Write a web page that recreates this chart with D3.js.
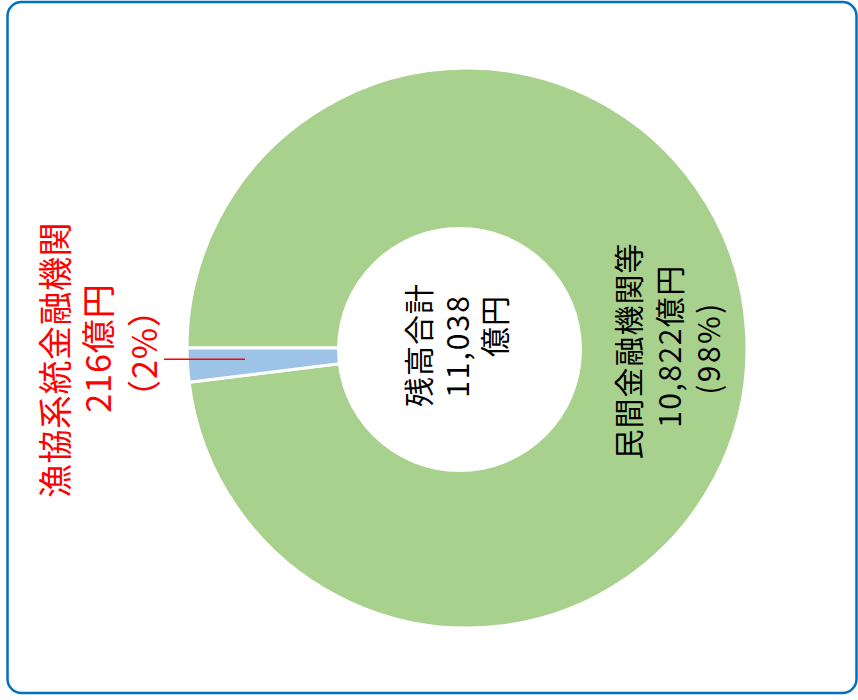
<!DOCTYPE html>
<html>
<head>
<meta charset="utf-8">
<script src="https://cdn.jsdelivr.net/npm/d3@7"></script>
<style>
  body { margin: 0; background: #fff; }
  svg text { font-family: "Noto Sans CJK JP", "Noto Sans", sans-serif; }
</style>
</head>
<body>
<svg width="858" height="700"></svg>
<script>
var categories = ["民間金融機関等", "漁協系統金融機関"];
var values = [10822, 216];
var valueLabels = ["10,822億円", "216億円"];
var pctLabels = ["(98%)", "（2%）"];
var totalLabel = ["残高合計", "11,038", "億円"];

var svg = d3.select("svg"),
    width = +svg.attr("width"),
    height = +svg.attr("height");

// outer frame
svg.append("rect")
    .attr("x", 7.5).attr("y", 2)
    .attr("width", 849).attr("height", 691)
    .attr("rx", 14)
    .attr("fill", "none")
    .attr("stroke", "#0070C0")
    .attr("stroke-width", 2.5);

var cx = 467, cy = 348,
    outerR = 280, innerR = 122.5;

// whole chart is turned a quarter to the left
var g = svg.append("g")
    .attr("transform", "translate(" + cx + "," + cy + ") rotate(-90)");

var color = d3.scaleOrdinal(categories, ["#A9D18E", "#9DC3E6"]);

var data = categories.map(function (c, i) { return { name: c, value: values[i] }; });

var pie = d3.pie()
    .sort(null)
    .value(function (d) { return d.value; });

var path = d3.arc()
    .outerRadius(outerR)
    .innerRadius(0);

var arcs = pie(data);

g.selectAll(".arc")
    .data(arcs)
    .enter().append("path")
    .attr("class", "arc")
    .attr("d", path)
    .attr("fill", function (d) { return color(d.data.name); })
    .attr("stroke", "#fff")
    .attr("stroke-width", 3);

// the hole sits a little off centre in the original
g.append("circle")
    .attr("cx", -1.5).attr("cy", -7.5)
    .attr("r", innerR)
    .attr("fill", "#fff");

function addLines(lines, x, ys, fill, size, dx, ls) {
    lines.forEach(function (t, i) {
        g.append("text")
            .attr("x", x + (dx ? dx[i] : 0))
            .attr("y", ys[i])
            .attr("text-anchor", "middle")
            .attr("dominant-baseline", "central")
            .attr("fill", fill)
            .style("font-size", size + "px")
            .style("letter-spacing", (ls ? ls[i] : 0) + "px")
            .text(t);
    });
}

// centre total
addLines(totalLabel, 2, [-50, -11, 26], "#000", 30, [1, 0, 20], [1, 2, 1]);

// big slice label, inside the ring
var mid = (outerR + 122) / 2;
addLines([categories[0], valueLabels[0], pctLabels[0]], 0,
    [mid - 41, mid, mid + 39], "#000", 30, [-3, 2, 0], [1, 1.5, 2.5]);

// small slice label, outside with a leader line
var small = arcs[1];
var a = (small.startAngle + small.endAngle) / 2;
var r1 = 222, r2 = 303;
var lx = r1 * Math.sin(a) + 2.5;
g.append("line")
    .attr("x1", lx).attr("y1", -r1)
    .attr("x2", lx).attr("y2", -r2)
    .attr("stroke", "#FF0000")
    .attr("stroke-width", 1.5);

addLines([categories[1], valueLabels[1], pctLabels[1]], 0,
    [-414, -371, -325], "#FF0000", 34, [-12, 0, -5], [0.5, 1, 1]);
</script>
</body>
</html>
